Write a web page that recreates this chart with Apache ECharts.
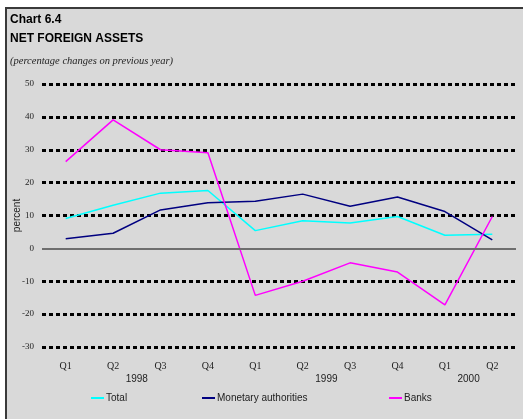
<!DOCTYPE html>
<html>
<head>
<meta charset="utf-8">
<script src="https://cdn.jsdelivr.net/npm/echarts@6/dist/echarts.min.js"></script>
<style>
html,body{margin:0;padding:0;background:#fff;}
#frame{position:absolute;left:5px;top:7px;width:516px;height:412px;background:#d9d9d9;border-left:2px solid #3a3a3a;border-top:2px solid #3a3a3a;}
#chart{position:absolute;left:0;top:0;width:523px;height:419px;}
</style>
</head>
<body>
<div id="frame"></div>
<div id="chart"></div>
<script>
const quarters = ['Q1','Q2','Q3','Q4','Q1','Q2','Q3','Q4','Q1','Q2'];
const years = ['1998','1998','1998','1998','1999','1999','1999','1999','2000','2000'];
const total = [9.1, 13.1, 16.8, 17.6, 5.4, 8.4, 7.7, 9.7, 4.0, 4.3];
const monetary = [2.9, 4.6, 11.7, 13.9, 14.3, 16.5, 12.8, 15.6, 11.2, 2.6];
const banks = [26.4, 39.1, 30.0, 29.1, -14.3, -10.0, -4.4, -7.2, -17.2, 9.7];
const seriesNames = ['Total', 'Monetary authorities', 'Banks'];
const yTicks = [-30, -20, -10, 0, 10, 20, 30, 40, 50];

// year label positions: centre of that year's quarters on a 0..N band scale
const yearPos = {};
years.forEach((y, i) => { (yearPos[y] = yearPos[y] || []).push(i + 0.5); });
const yearAt = {};
Object.keys(yearPos).forEach(y => {
  const a = yearPos[y];
  yearAt[(a[0] + a[a.length - 1]) / 2] = y;
});

const chart = echarts.init(document.getElementById('chart'), null, {renderer: 'canvas'});
const gridColors = yTicks.map(v => v === 0 ? 'rgba(0,0,0,0)' : '#000');
const colors = ['#00ffff', '#000080', '#ff00ff'];

const option = {
  animation: false,
  title: [
    {text: 'Chart 6.4\nNET FOREIGN ASSETS', left: 10, top: 10, padding: 0,
     textStyle: {fontFamily: 'Liberation Sans', fontWeight: 'bold', fontSize: 12, lineHeight: 19, color: '#000'}},
    {text: '(percentage changes on previous year)', left: 10, top: 56, padding: 0,
     textStyle: {fontFamily: 'Liberation Serif', fontStyle: 'italic', fontWeight: 'normal', fontSize: 10.5, color: '#222'}}
  ],
  grid: {left: 42, right: 7, top: 84, bottom: 72, containLabel: false, outerBoundsMode: 'none'},
  xAxis: [
    {type: 'category', data: quarters, boundaryGap: true,
     axisLine: {show: false}, axisTick: {show: false}, splitLine: {show: false},
     axisLabel: {fontFamily: 'Liberation Serif', fontSize: 10, color: '#222', margin: 14, interval: 0}},
    {type: 'value', min: 0, max: quarters.length, interval: 0.5, position: 'bottom',
     axisLine: {show: false}, axisTick: {show: false}, splitLine: {show: false},
     axisLabel: {fontFamily: 'Liberation Sans', fontSize: 10, color: '#222', margin: 27,
       showMinLabel: true, showMaxLabel: true,
       formatter: v => yearAt[v] || ''}}
  ],
  yAxis: {type: 'value', min: -30, max: 50, interval: 10,
    name: 'percent', nameLocation: 'middle', nameRotate: 90, nameGap: 20, nameMoveOverlap: false,
    nameTextStyle: {fontFamily: 'Liberation Sans', fontSize: 10, color: '#222'},
    axisLine: {show: false}, axisTick: {show: false},
    axisLabel: {fontFamily: 'Liberation Serif', fontSize: 9, color: '#222', margin: 8},
    splitLine: {show: true, lineStyle: {color: gridColors, width: 3, type: [4, 3]}}},
  legend: [
    {data: [seriesNames[0]], left: 91, top: 393},
    {data: [seriesNames[1]], left: 202, top: 393},
    {data: [seriesNames[2]], left: 389, top: 393}
  ].map(l => Object.assign(l, {icon: 'rect', itemWidth: 13, itemHeight: 2, itemGap: 2,
      textStyle: {fontFamily: 'Liberation Sans', fontSize: 10, color: '#222', padding: [0,0,0,-3]}, padding: 0})),
  series: [
    {name: seriesNames[0], type: 'line', data: total, color: colors[0], symbol: 'none',
     lineStyle: {width: 1.5}, z: 3,
     markLine: {silent: true, symbol: 'none', label: {show: false},
       lineStyle: {color: '#6e6e6e', width: 2, type: 'solid'}, data: [{yAxis: 0}]}},
    {name: seriesNames[1], type: 'line', data: monetary, color: colors[1], symbol: 'none', lineStyle: {width: 1.5}, z: 3},
    {name: seriesNames[2], type: 'line', data: banks, color: colors[2], symbol: 'none', lineStyle: {width: 1.5}, z: 3}
  ]
};
chart.setOption(option);
</script>
</body>
</html>
